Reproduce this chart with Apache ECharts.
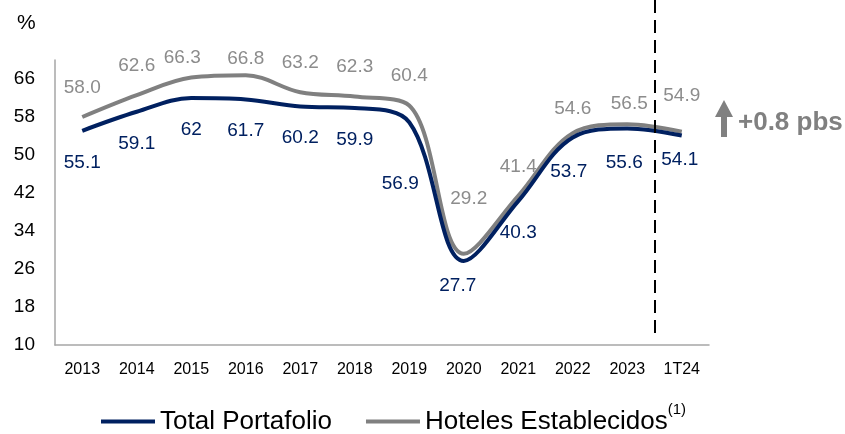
<!DOCTYPE html>
<html>
<head>
<meta charset="utf-8">
<script src="https://cdn.jsdelivr.net/npm/echarts@6/dist/echarts.min.js"></script>
<style>
  html, body { margin: 0; padding: 0; background: #fff; }
</style>
</head>
<body>
<div id="occupancy-chart" style="width: 845px; height: 434px"></div>
<script>
var categories = ["2013", "2014", "2015", "2016", "2017", "2018", "2019", "2020", "2021", "2022", "2023", "1T24"];
var totalPortafolio = [55.1, 59.1, 62, 61.7, 60.2, 59.9, 56.9, 27.7, 40.3, 53.7, 55.6, 54.1];
var hotelesEstablecidos = [58.0, 62.6, 66.3, 66.8, 63.2, 62.3, 60.4, 29.2, 41.4, 54.6, 56.5, 54.9];
var yTicks = { min: 10, max: 70, interval: 8 };

var navy = "#002060";
var gray = "#808080";
var grayText = "#8c8c8c";
var font = "Liberation Sans, Arial, sans-serif";

// small label nudges where the original labels dodge the curves
var blueNudge = { 6: [-9, 30], 7: [-6, -7], 9: [-4, 3], 10: [-3, 3], 11: [-2, -7] };
var grayNudge = { 2: [-9, 10], 3: [0, 13], 7: [5, -26], 9: [0, 5], 10: [2, 9], 11: [0, -6] };

function withNudge(values, nudge) {
  return values.map(function (v, i) {
    if (nudge[i]) {
      return { value: v, label: { offset: nudge[i] } };
    }
    return v;
  });
}

var myChart = echarts.init(document.getElementById("occupancy-chart"));

var option = {
  animation: false,
  title: {
    text: "%",
    left: 12,
    top: 8,
    textStyle: { fontFamily: font, fontSize: 21, fontWeight: "normal", color: "#000" },
  },
  legend: {
    data: ["Total Portafolio", "Hoteles Establecidos"],
    left: 96,
    top: 397,
    icon: "rect",
    itemWidth: 54,
    itemHeight: 4,
    itemGap: 34,
    textStyle: {
      fontFamily: font,
      fontSize: 26,
      color: "#000",
      rich: {
        sup: { fontFamily: font, fontSize: 15, color: "#000", padding: [0, 0, 24, 0] },
      },
    },
    formatter: function (name) {
      if (name === "Hoteles Establecidos") {
        return name + "{sup|(1)}";
      }
      return name;
    },
  },
  grid: { left: 55, right: 136, top: 60, bottom: 89 },
  xAxis: {
    type: "category",
    data: categories,
    boundaryGap: true,
    axisLine: { lineStyle: { color: "#a6a6a6", width: 1.5 } },
    axisTick: { show: false },
    axisLabel: { fontFamily: font, fontSize: 16, color: "#000", margin: 17 },
  },
  yAxis: {
    type: "value",
    min: yTicks.min,
    max: yTicks.max,
    interval: yTicks.interval,
    splitLine: { show: false },
    axisLine: { show: true, lineStyle: { color: "#a6a6a6", width: 1.5 } },
    axisTick: { show: false },
    axisLabel: { fontFamily: font, fontSize: 19, color: "#000", margin: 20, showMaxLabel: false },
  },
  series: [
    {
      name: "Total Portafolio",
      type: "line",
      z: 3,
      smooth: 0.35,
      symbol: "circle",
      symbolSize: 0,
      data: withNudge(totalPortafolio, blueNudge),
      lineStyle: { color: navy, width: 4 },
      itemStyle: { color: navy },
      label: {
        show: true,
        position: "bottom",
        distance: 22,
        fontFamily: font,
        fontSize: 19,
        color: navy,
      },
    },
    {
      name: "Hoteles Establecidos",
      type: "line",
      z: 2,
      smooth: 0.35,
      symbol: "circle",
      symbolSize: 0,
      data: withNudge(hotelesEstablecidos, grayNudge),
      lineStyle: { color: gray, width: 4 },
      itemStyle: { color: gray },
      label: {
        show: true,
        position: "top",
        distance: 20,
        fontFamily: font,
        fontSize: 19,
        color: grayText,
        formatter: function (p) {
          return Number(p.value).toFixed(1);
        },
      },
    },
  ],
};

myChart.setOption(option);

// dashed separator between 2023 and 1T24, plus the +0.8 pbs note
var xA = myChart.convertToPixel({ xAxisIndex: 0 }, "2023");
var xB = myChart.convertToPixel({ xAxisIndex: 0 }, "1T24");
var xSep = Math.round((xA + xB) / 2);

myChart.setOption({
  graphic: [
    {
      type: "line",
      shape: { x1: xSep, y1: 0, x2: xSep, y2: 340 },
      style: { stroke: "#000", lineWidth: 2, lineDash: [13, 7] },
      z: 10,
    },
    {
      type: "polygon",
      shape: {
        points: [[724, 100], [733, 117], [727, 117], [727, 137], [721, 137], [721, 117], [715, 117]],
      },
      style: { fill: gray },
    },
    {
      type: "text",
      left: 738,
      top: 110,
      style: {
        text: "+0.8 pbs",
        fontFamily: font,
        fontSize: 26,
        fontWeight: "bold",
        fill: gray,
      },
    },
  ],
});
</script>
</body>
</html>
